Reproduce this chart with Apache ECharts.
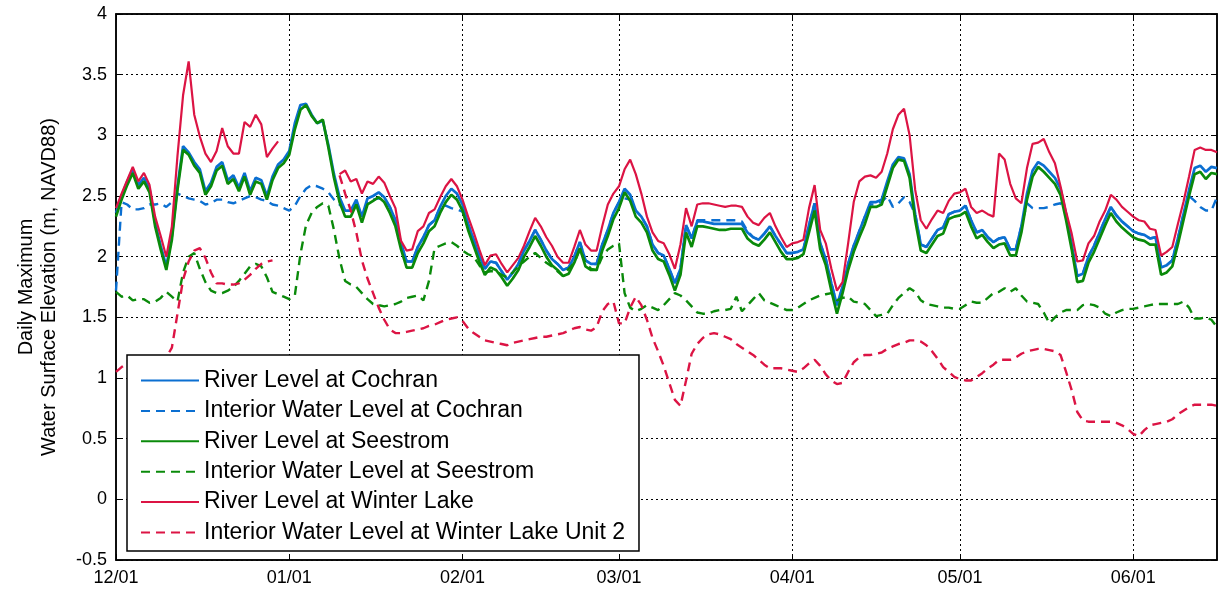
<!DOCTYPE html>
<html>
<head>
<meta charset="utf-8">
<title>Daily Maximum Water Surface Elevation</title>
<script src="https://cdn.jsdelivr.net/npm/echarts@6/dist/echarts.min.js"></script>
<style>
  html, body { margin: 0; padding: 0; background: #fff; }
  #chart { width: 1225px; height: 594px; }
</style>
</head>
<body>
<div id="chart"></div>
<script>
// Daily series, one value per day starting 12/01 (null = no record that day)
const startMonth = 12, dayCount = 198;
const monthLengths = { 12: 31, 1: 31, 2: 28, 3: 31, 4: 30, 5: 31, 6: 30 };

const riverCochran = [
  2.36,2.50,2.62,2.72,2.59,2.65,2.56,2.28,2.09,1.92,2.17,2.58,2.91,2.86,2.78,2.72,2.54,2.61,2.74,2.78,
  2.63,2.67,2.57,2.69,2.54,2.65,2.63,2.50,2.66,2.76,2.80,2.87,3.10,3.25,3.26,3.17,3.10,3.12,2.92,2.68,
  2.49,2.38,2.38,2.47,2.33,2.48,2.50,2.53,2.49,2.41,2.30,2.11,1.96,1.96,2.08,2.16,2.26,2.30,2.41,2.50,
  2.56,2.52,2.43,2.27,2.14,2.01,1.90,1.96,1.95,1.88,1.81,1.87,1.94,2.05,2.13,2.22,2.14,2.05,1.98,1.94,
  1.89,1.91,2.00,2.12,1.97,1.94,1.94,2.10,2.22,2.36,2.45,2.56,2.51,2.38,2.33,2.25,2.10,2.03,2.01,1.90,
  1.78,1.90,2.26,2.15,2.29,2.29,2.28,2.27,2.27,2.27,2.27,2.27,2.27,2.20,2.16,2.14,2.19,2.25,2.17,2.10,
  2.03,2.03,2.04,2.06,2.26,2.44,2.11,1.98,1.78,1.60,1.75,1.94,2.09,2.21,2.33,2.45,2.45,2.47,2.62,2.76,
  2.82,2.81,2.68,2.35,2.10,2.08,2.15,2.22,2.24,2.35,2.37,2.38,2.42,2.30,2.20,2.22,2.16,2.12,2.15,2.16,
  2.06,2.06,2.25,2.52,2.71,2.78,2.75,2.70,2.65,2.56,2.35,2.10,1.84,1.86,2.00,2.09,2.20,2.31,2.41,2.34,
  2.29,2.25,2.21,2.19,2.18,2.15,2.16,1.91,1.93,1.97,2.15,2.35,2.55,2.73,2.75,2.70,2.74,2.73
];

const interiorCochran = [
  1.72,2.45,2.43,2.39,2.39,2.40,2.43,2.43,2.44,2.41,2.45,2.52,2.50,2.48,2.47,2.46,2.43,2.44,2.47,2.47,
  2.45,2.44,2.46,2.48,2.50,2.49,2.47,2.46,2.43,2.42,2.40,2.38,2.42,2.50,2.56,2.59,2.58,2.56,2.53,2.47,
  2.43,2.38,2.38,2.44,2.33,2.45,2.47,2.48,2.47,2.41,2.30,2.11,1.96,1.96,2.08,2.16,2.26,2.30,2.41,2.42,
  2.40,2.39,2.37,2.27,2.14,2.01,1.90,1.96,1.95,1.88,1.81,1.87,1.94,2.05,2.13,2.22,2.14,2.05,1.98,1.94,
  1.89,1.91,2.00,2.12,1.97,1.94,1.94,2.10,2.22,2.36,2.45,2.48,2.47,2.38,2.33,2.25,2.10,2.03,2.01,1.90,
  1.78,1.90,2.26,2.15,2.30,2.30,2.30,2.30,2.30,2.30,2.30,2.30,2.29,2.21,2.16,2.14,2.19,2.25,2.17,2.10,
  2.03,2.03,2.04,2.06,2.26,2.44,2.11,1.98,1.78,1.60,1.75,1.94,2.09,2.21,2.33,2.43,2.43,2.45,2.50,2.41,
  2.44,2.49,2.45,2.35,2.10,2.08,2.15,2.22,2.24,2.35,2.37,2.38,2.42,2.30,2.20,2.22,2.16,2.12,2.15,2.16,
  2.06,2.06,2.25,2.44,2.40,2.40,2.40,2.41,2.43,2.44,2.35,2.10,1.84,1.86,2.00,2.09,2.20,2.31,2.41,2.34,
  2.29,2.25,2.21,2.19,2.18,2.15,2.16,1.91,1.93,1.97,2.15,2.35,2.50,2.46,2.41,2.38,2.38,2.49
];

const riverSeestrom = [
  2.33,2.47,2.59,2.69,2.56,2.62,2.53,2.25,2.06,1.89,2.14,2.55,2.88,2.84,2.75,2.69,2.51,2.58,2.71,2.75,
  2.60,2.64,2.54,2.66,2.51,2.62,2.60,2.47,2.63,2.73,2.77,2.84,3.05,3.21,3.25,3.16,3.10,3.13,2.90,2.65,
  2.45,2.33,2.33,2.43,2.28,2.43,2.46,2.49,2.45,2.36,2.25,2.06,1.91,1.91,2.03,2.11,2.21,2.25,2.36,2.45,
  2.51,2.47,2.38,2.22,2.09,1.96,1.85,1.91,1.89,1.83,1.76,1.82,1.89,2.00,2.08,2.17,2.09,2.00,1.93,1.89,
  1.84,1.86,1.95,2.07,1.92,1.89,1.89,2.05,2.17,2.31,2.40,2.53,2.46,2.33,2.28,2.20,2.05,1.98,1.96,1.85,
  1.72,1.85,2.20,2.08,2.25,2.25,2.24,2.23,2.22,2.22,2.23,2.23,2.23,2.15,2.11,2.09,2.14,2.20,2.12,2.04,
  1.98,1.98,1.99,2.02,2.20,2.38,2.06,1.93,1.72,1.53,1.70,1.89,2.04,2.16,2.27,2.41,2.41,2.43,2.58,2.73,
  2.80,2.79,2.65,2.30,2.05,2.03,2.10,2.17,2.19,2.31,2.33,2.34,2.37,2.25,2.15,2.18,2.12,2.07,2.10,2.11,
  2.01,2.01,2.20,2.47,2.66,2.74,2.70,2.65,2.60,2.51,2.30,2.06,1.79,1.80,1.95,2.04,2.15,2.26,2.36,2.29,
  2.24,2.20,2.16,2.14,2.13,2.10,2.10,1.85,1.87,1.92,2.10,2.30,2.50,2.68,2.70,2.64,2.69,2.68
];

const interiorSeestrom = [
  1.71,1.67,1.68,1.64,1.65,1.65,1.62,1.63,1.66,1.71,1.67,1.63,1.87,2.00,2.03,1.90,1.79,1.72,1.70,1.70,
  1.72,1.75,1.80,1.86,1.92,1.94,1.92,1.83,1.71,1.69,1.67,1.65,1.68,2.02,2.26,2.36,2.41,2.44,2.42,2.22,
  1.98,1.80,1.77,1.75,1.70,1.65,1.61,1.60,1.59,1.60,1.61,1.63,1.66,1.67,1.68,1.64,1.80,2.07,2.09,2.11,
  2.12,2.09,2.05,2.02,2.00,1.93,1.87,1.88,1.88,1.85,1.83,1.87,1.92,1.96,2.00,2.03,1.99,1.95,1.92,1.88,
  1.84,1.90,1.95,2.06,1.95,1.90,1.89,2.00,2.06,2.09,2.11,1.70,1.58,1.55,1.57,1.60,1.58,1.56,1.60,1.65,
  1.70,1.68,1.64,1.59,1.54,1.53,1.53,1.55,1.56,1.56,1.57,1.67,1.55,1.60,1.65,1.70,1.64,1.62,1.60,1.58,
  1.56,1.56,1.58,1.61,1.64,1.66,1.68,1.69,1.70,1.64,1.66,1.67,1.63,1.62,1.61,1.56,1.51,1.52,1.53,1.60,
  1.66,1.70,1.74,1.71,1.64,1.61,1.60,1.59,1.58,1.58,1.57,1.57,1.60,1.63,1.62,1.62,1.66,1.70,1.71,1.74,
  1.71,1.74,1.68,1.63,1.62,1.61,1.54,1.45,1.50,1.54,1.56,1.56,1.56,1.60,1.61,1.60,1.58,1.53,1.51,1.54,
  1.56,1.57,1.57,1.58,1.59,1.60,1.61,1.61,1.61,1.61,1.61,1.63,1.58,1.49,1.49,1.50,1.48,1.42
];

const riverWinterLake = [
  2.40,2.52,2.63,2.74,2.62,2.69,2.59,2.33,2.17,2.00,2.25,2.83,3.33,3.61,3.17,2.99,2.85,2.78,2.87,3.06,
  2.91,2.85,2.85,3.11,3.07,3.17,3.09,2.82,2.89,2.95,null,null,null,null,null,null,null,null,null,null,
  2.68,2.71,2.62,2.64,2.52,2.62,2.60,2.66,2.61,2.50,2.40,2.13,2.05,2.06,2.21,2.25,2.36,2.39,2.49,2.58,
  2.64,2.58,2.47,2.33,2.20,2.06,1.93,2.01,2.02,1.94,1.87,1.93,1.99,2.09,2.21,2.32,2.25,2.16,2.09,2.00,
  1.95,1.95,2.08,2.22,2.10,2.05,2.05,2.25,2.43,2.52,2.58,2.72,2.80,2.68,2.52,2.33,2.20,2.13,2.11,2.02,
  1.90,2.10,2.40,2.25,2.43,2.44,2.44,2.43,2.42,2.41,2.42,2.42,2.41,2.33,2.28,2.26,2.32,2.36,2.25,2.16,
  2.08,2.11,2.12,2.14,2.40,2.59,2.22,2.11,1.90,1.72,1.79,2.11,2.45,2.62,2.66,2.67,2.65,2.70,2.85,3.05,
  3.17,3.22,3.00,2.55,2.30,2.23,2.31,2.38,2.36,2.46,2.52,2.53,2.56,2.41,2.36,2.38,2.35,2.33,2.85,2.80,
  2.60,2.48,2.44,2.73,2.93,2.94,2.97,2.86,2.77,2.58,2.37,2.19,1.96,1.97,2.11,2.17,2.29,2.38,2.51,2.47,
  2.41,2.37,2.33,2.30,2.29,2.23,2.22,2.01,2.04,2.08,2.27,2.45,2.66,2.88,2.90,2.88,2.88,2.86
];

const interiorWinterLakeUnit2 = [
  1.05,1.09,1.12,1.14,1.15,1.15,1.15,1.16,1.16,1.17,1.25,1.53,1.81,1.96,2.05,2.07,1.99,1.87,1.78,1.78,
  1.77,1.77,1.78,1.81,1.85,1.90,1.94,1.96,1.97,null,null,null,null,null,null,null,null,null,null,null,
  2.67,2.52,2.38,2.20,1.97,1.82,1.70,1.58,1.48,1.40,1.37,1.37,1.38,1.39,1.40,1.41,1.43,1.44,1.46,1.48,
  1.49,1.50,1.47,1.41,1.37,1.34,1.31,1.30,1.29,1.28,1.27,1.29,1.30,1.31,1.32,1.33,1.34,1.34,1.35,1.36,
  1.37,1.39,1.41,1.42,1.40,1.39,1.42,1.55,1.61,1.63,1.45,1.45,1.58,1.67,1.60,1.48,1.33,1.22,1.10,0.96,
  0.82,0.77,0.98,1.20,1.28,1.33,1.36,1.37,1.36,1.34,1.32,1.28,1.25,1.22,1.19,1.15,1.11,1.08,1.08,1.08,
  1.07,1.06,1.05,1.08,1.12,1.15,1.10,1.03,0.98,0.95,0.96,1.05,1.13,1.17,1.19,1.19,1.20,1.21,1.24,1.26,
  1.28,1.29,1.31,1.31,1.30,1.27,1.22,1.16,1.09,1.05,1.01,0.99,0.98,0.98,1.01,1.04,1.08,1.11,1.15,1.15,
  1.15,1.17,1.20,1.22,1.23,1.24,1.24,1.23,1.22,1.19,1.05,0.90,0.72,0.65,0.64,0.64,0.64,0.64,0.64,0.63,
  0.61,0.58,0.54,0.52,0.57,0.61,0.62,0.63,0.64,0.66,0.70,0.73,0.76,0.78,0.78,0.78,0.78,0.77
];

const seriesNames = [
  'River Level at Cochran',
  'Interior Water Level at Cochran',
  'River Level at Seestrom',
  'Interior Water Level at Seestrom',
  'River Level at Winter Lake',
  'Interior Water Level at Winter Lake Unit 2'
];

const yTicks = { min: -0.5, max: 4, step: 0.5 };

// Build MM/DD labels for every day on the axis
const dates = [];
{
  let m = startMonth, d = 1;
  for (let i = 0; i < dayCount; i++) {
    dates.push(String(m).padStart(2, '0') + '/' + String(d).padStart(2, '0'));
    d++;
    if (d > monthLengths[m]) { d = 1; m = m === 12 ? 1 : m + 1; }
  }
}
const isMonthStart = (idx) => dates[idx] && dates[idx].slice(3) === '01';

const BLUE = '#0b6fd1', GREEN = '#0a8a0a', RED = '#dc1444';
const FONT = 'Liberation Sans, Arial, sans-serif';

function lineSeries(name, data, color, dashed, width) {
  return {
    name, type: 'line', data,
    symbol: 'none', showSymbol: false, connectNulls: false,
    animation: false,
    lineStyle: { color, width, type: dashed ? [9, 6] : 'solid' },
    itemStyle: { color },
    emphasis: { disabled: true }
  };
}

const chart = echarts.init(document.getElementById('chart'), null, { renderer: 'canvas' });

const catAxisBase = {
  type: 'category', data: dates, boundaryGap: false
};

chart.setOption({
  animation: false,
  backgroundColor: '#fff',
  textStyle: { fontFamily: FONT },
  grid: {
    left: 116, right: 8, top: 14, bottom: 34,
    show: true, borderColor: '#000', borderWidth: 1.5, backgroundColor: 'transparent'
  },
  legend: {
    orient: 'vertical', left: 127, top: 355,
    padding: [14, 14, 7, 13],
    itemWidth: 58, itemHeight: 14, itemGap: 7.4,
    itemStyle: { opacity: 0 },
    backgroundColor: '#fff', borderColor: '#000', borderWidth: 1.5,
    textStyle: { fontFamily: FONT, fontSize: 23, color: '#000', lineHeight: 22 },
    data: seriesNames
  },
  xAxis: [
    Object.assign({}, catAxisBase, {
      position: 'bottom',
      axisLine: { show: true, onZero: false, lineStyle: { color: '#000', width: 1.5 } },
      axisTick: { show: true, inside: true, length: 6, interval: (i) => isMonthStart(i), lineStyle: { color: '#000' } },
      axisLabel: { show: true, interval: (i) => isMonthStart(i), color: '#000', fontSize: 18, fontFamily: FONT, margin: 9 },
      splitLine: { show: true, interval: (i) => isMonthStart(i) && i > 0, lineStyle: { color: '#000', width: 1, type: [2, 3] } }
    }),
    Object.assign({}, catAxisBase, {
      position: 'top',
      axisLine: { show: true, onZero: false, lineStyle: { color: '#000', width: 1.5 } },
      axisTick: { show: true, inside: true, length: 6, interval: (i) => isMonthStart(i), lineStyle: { color: '#000' } },
      axisLabel: { show: false },
      splitLine: { show: false }
    })
  ],
  yAxis: [
    {
      type: 'value', min: yTicks.min, max: yTicks.max, interval: yTicks.step,
      position: 'left',
      name: 'Daily Maximum\nWater Surface Elevation (m, NAVD88)',
      nameLocation: 'middle', nameGap: 55, nameRotate: 90,
      nameTextStyle: { fontFamily: FONT, fontSize: 20, color: '#000', lineHeight: 23, align: 'center' },
      axisLine: { show: true, lineStyle: { color: '#000', width: 1.5 } },
      axisTick: { show: true, inside: true, length: 6, lineStyle: { color: '#000' } },
      axisLabel: { color: '#000', fontSize: 18, fontFamily: FONT, margin: 9 },
      splitLine: { show: true, lineStyle: { color: '#000', width: 1, type: [2, 3] } }
    },
    {
      type: 'value', min: yTicks.min, max: yTicks.max, interval: yTicks.step,
      position: 'right',
      axisLine: { show: true, lineStyle: { color: '#000', width: 1.5 } },
      axisTick: { show: true, inside: true, length: 6, lineStyle: { color: '#000' } },
      axisLabel: { show: false },
      splitLine: { show: false }
    }
  ],
  series: [
    lineSeries(seriesNames[0], riverCochran, BLUE, false, 2.7),
    lineSeries(seriesNames[1], interiorCochran, BLUE, true, 2.4),
    lineSeries(seriesNames[2], riverSeestrom, GREEN, false, 2.7),
    lineSeries(seriesNames[3], interiorSeestrom, GREEN, true, 2.4),
    lineSeries(seriesNames[4], riverWinterLake, RED, false, 2.2),
    lineSeries(seriesNames[5], interiorWinterLakeUnit2, RED, true, 2.4)
  ]
});
</script>
</body>
</html>
